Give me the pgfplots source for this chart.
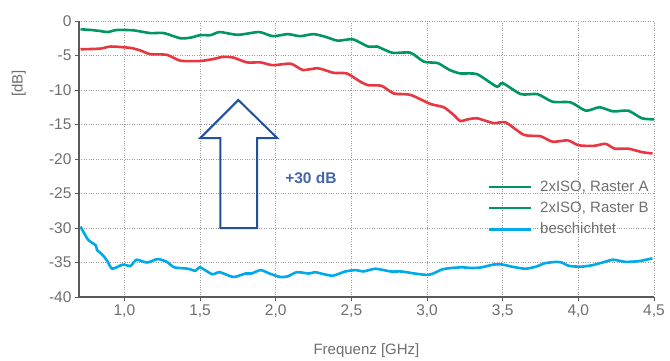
\documentclass[border=0pt]{standalone}
\usepackage{fontspec}
\setmainfont{Liberation Sans}
\usepackage{pgfplots}
\pgfplotsset{compat=1.18}
\definecolor{isogreen}{RGB}{0,150,100}
\definecolor{isored}{RGB}{232,55,64}
\definecolor{coatblue}{RGB}{0,170,232}
\definecolor{arrowblue}{RGB}{32,80,158}
\definecolor{txtblue}{RGB}{70,100,172}
\definecolor{txtgray}{RGB}{110,110,110}
\definecolor{axgray}{RGB}{90,90,90}
\begin{document}
\begin{tikzpicture}[font=\fontsize{15}{18}\selectfont]
\path[use as bounding box] (-79pt,-63pt) rectangle (591pt,297pt);
\begin{axis}[
  scale only axis,
  width=575pt, height=276pt,
  xmin=0.7, xmax=4.5, ymin=-40, ymax=0,
  axis x line=bottom, axis y line=left,
  axis line style={-, axgray, line width=1.2pt},
  xtick={1,1.5,2,2.5,3,3.5,4,4.5},
  ytick={-40,-35,-30,-25,-20,-15,-10,-5,0},
  tick align=outside,
  major tick length=4pt,
  tick style={axgray, line width=1pt},
  grid=major,
  major grid style={dotted, gray!80, line width=0.9pt},
  xticklabel={\pgfmathprintnumber[fixed, fixed zerofill, precision=1, use comma, assume math mode=true]{\tick}},
  yticklabel={\pgfmathprintnumber[fixed, precision=0, assume math mode=true]{\tick}},
  ticklabel style={text=txtgray, font=\fontsize{15.5}{18}\selectfont},
  xlabel={Frequenz [GHz]},
  ylabel={[dB]},
  label style={text=txtgray, font=\fontsize{15}{18}\selectfont},
  xlabel style={at={(axis description cs:0.5,0)}, anchor=center, yshift=-54pt},
  ylabel style={at={(axis description cs:-0.105,0.774)}, anchor=center},
  clip=false,
  legend style={draw=none, fill=none, at={(axis description cs:0.705,0.435)}, anchor=north west,
    font=\fontsize{15}{18}\selectfont, text=txtgray, row sep=5pt},
  legend cell align=left,
  legend image code/.code={\draw[#1] (0pt,0pt) -- (42pt,0pt); \path (48pt,0pt);},
]
\addplot[isogreen, line width=2.6pt, smooth, tension=0.4, forget plot] coordinates {
(0.71,-1.2)(0.78,-1.3)(0.84,-1.45)(0.89,-1.6)(0.95,-1.3)(1.06,-1.35)(1.17,-1.75)(1.26,-1.75)(1.37,-2.5)(1.44,-2.4)(1.50,-2.05)(1.57,-2.05)(1.63,-1.6)(1.75,-2.0)(1.89,-1.6)(1.98,-2.2)(2.08,-1.9)(2.16,-2.2)(2.25,-1.9)(2.33,-2.3)(2.41,-2.85)(2.51,-2.65)(2.61,-3.7)(2.67,-3.7)(2.77,-4.6)(2.89,-4.6)(2.98,-5.9)(3.07,-6.1)(3.15,-7.1)(3.22,-7.6)(3.33,-7.7)(3.46,-9.5)(3.50,-9.0)(3.62,-10.6)(3.73,-10.6)(3.83,-11.7)(3.95,-11.8)(4.05,-13.0)(4.14,-12.5)(4.23,-13.1)(4.33,-13.0)(4.42,-14.1)(4.50,-14.25)
};
\addplot[isored, line width=2.6pt, smooth, tension=0.4, forget plot] coordinates {
(0.71,-4.1)(0.84,-4.0)(0.91,-3.7)(1.04,-3.9)(1.11,-4.3)(1.17,-4.8)(1.28,-4.9)(1.37,-5.75)(1.50,-5.8)(1.59,-5.5)(1.65,-5.2)(1.72,-5.3)(1.81,-6.0)(1.90,-6.0)(1.98,-6.4)(2.10,-6.2)(2.18,-7.1)(2.28,-6.85)(2.38,-7.5)(2.47,-7.6)(2.56,-8.8)(2.61,-9.3)(2.70,-9.4)(2.78,-10.5)(2.89,-10.7)(3.02,-12.0)(3.11,-12.5)(3.17,-13.5)(3.22,-14.5)(3.26,-14.3)(3.33,-14.1)(3.44,-14.8)(3.52,-14.7)(3.64,-16.5)(3.75,-16.7)(3.83,-17.5)(3.93,-17.3)(4.00,-18.0)(4.10,-18.1)(4.18,-17.8)(4.24,-18.5)(4.33,-18.5)(4.42,-19.0)(4.49,-19.2)
};
\addplot[coatblue, line width=2.6pt, smooth, tension=0.4, forget plot] coordinates {
(0.71,-29.8)(0.76,-31.7)(0.81,-32.5)(0.82,-33.2)(0.86,-34.0)(0.89,-34.9)(0.92,-35.9)(0.99,-35.3)(1.04,-35.5)(1.08,-34.6)(1.15,-35.0)(1.22,-34.5)(1.28,-34.9)(1.33,-35.7)(1.42,-35.9)(1.47,-36.2)(1.50,-35.7)(1.58,-36.7)(1.63,-36.4)(1.72,-37.1)(1.80,-36.6)(1.84,-36.6)(1.90,-36.1)(1.96,-36.6)(2.03,-37.1)(2.08,-37.0)(2.14,-36.4)(2.22,-36.6)(2.26,-36.4)(2.32,-36.7)(2.38,-36.9)(2.46,-36.3)(2.53,-36.1)(2.58,-36.3)(2.66,-35.9)(2.76,-36.3)(2.83,-36.3)(2.92,-36.6)(3.00,-36.8)(3.04,-36.6)(3.10,-36.0)(3.16,-35.8)(3.23,-35.7)(3.30,-35.8)(3.36,-35.7)(3.44,-35.3)(3.50,-35.3)(3.56,-35.6)(3.65,-35.9)(3.72,-35.6)(3.78,-35.1)(3.86,-34.9)(3.89,-35.0)(3.94,-35.5)(4.02,-35.6)(4.09,-35.4)(4.16,-35.0)(4.23,-34.6)(4.31,-34.9)(4.40,-34.8)(4.49,-34.4)
};
\addplot[arrowblue, line width=2pt, line join=miter, forget plot] coordinates {
(1.753,-11.45)(2.01,-16.96)(1.878,-16.96)(1.878,-30.0)(1.634,-30.0)(1.634,-16.96)(1.502,-16.96)} -- cycle;
\node[anchor=west, text=txtblue, font=\fontsize{15.5}{18}\selectfont\bfseries] at (axis cs:2.04,-22.75) {+30 dB};
\addlegendimage{isogreen, line width=2.6pt}
\addlegendentry{2xISO, Raster A}
\addlegendimage{isogreen, line width=2.6pt}
\addlegendentry{2xISO, Raster B}
\addlegendimage{coatblue, line width=2.6pt}
\addlegendentry{beschichtet}
\end{axis}
\end{tikzpicture}
\end{document}
